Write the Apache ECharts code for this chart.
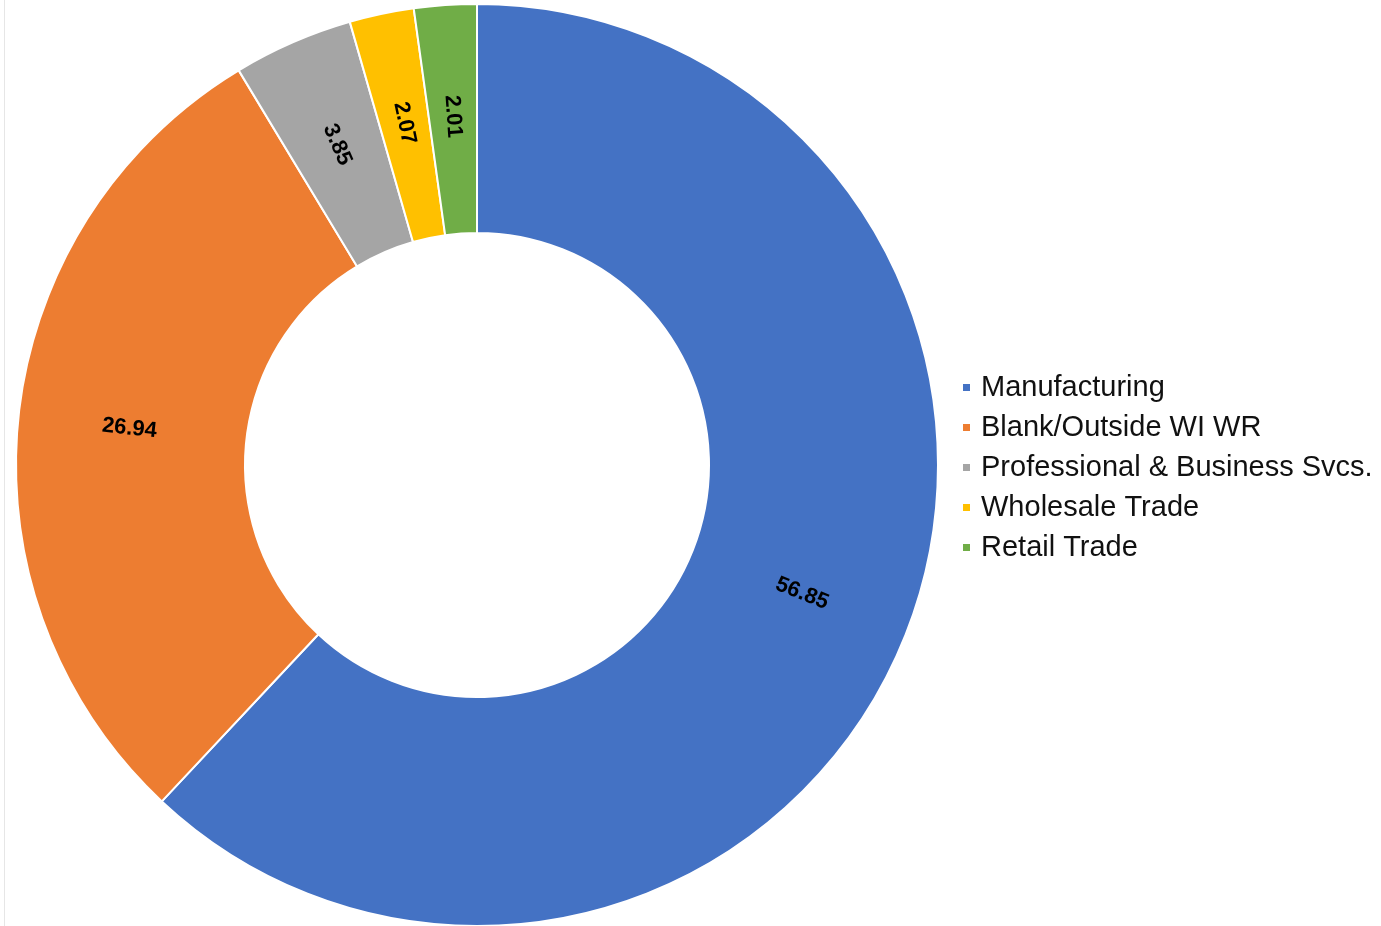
<!DOCTYPE html>
<html>
<head>
<meta charset="utf-8">
<script src="https://cdn.jsdelivr.net/npm/echarts@6/dist/echarts.min.js"></script>
<style>
html,body{margin:0;padding:0;background:#fff;}
#chart{width:1381px;height:926px;}
</style>
</head>
<body>
<div id="chart"></div>
<script>
const categories = ["Manufacturing", "Blank/Outside WI WR", "Professional & Business Svcs.", "Wholesale Trade", "Retail Trade"];
const values = [56.85, 26.94, 3.85, 2.07, 2.01];
const colors = ["#4472C4", "#ED7D31", "#A5A5A5", "#FFC000", "#70AD47"];

const chart = echarts.init(document.getElementById('chart'));
chart.setOption({
  animation: false,
  color: colors,
  graphic: [{
    type: 'line', shape: {x1: 4.5, y1: 0, x2: 4.5, y2: 926},
    style: {stroke: '#e6e6e6', lineWidth: 1}
  }],
  legend: {
    orient: 'vertical',
    left: 956,
    top: 368,
    itemWidth: 9,
    itemHeight: 9,
    itemGap: 11,
    icon: 'rect',
    textStyle: {fontFamily: 'Liberation Sans, Arial, sans-serif', fontSize: 29, color: '#111', padding: [0,0,0,5]},
    data: categories
  },
  series: [{
    type: 'pie',
    center: [477, 465],
    radius: [232, 461],
    startAngle: 90,
    clockwise: true,
    avoidLabelOverlap: false,
    itemStyle: {borderColor: '#fff', borderWidth: 2},
    label: {
      show: true,
      position: 'inside',
      rotate: 'radial',
      formatter: p => p.value.toFixed(2),
      fontFamily: 'Liberation Sans, Arial, sans-serif',
      fontSize: 22,
      fontWeight: 'bold',
      color: '#000'
    },
    labelLine: {show: false},
    emphasis: {disabled: true},
    data: categories.map((c, i) => ({name: c, value: values[i]}))
  }]
});
</script>
</body>
</html>
